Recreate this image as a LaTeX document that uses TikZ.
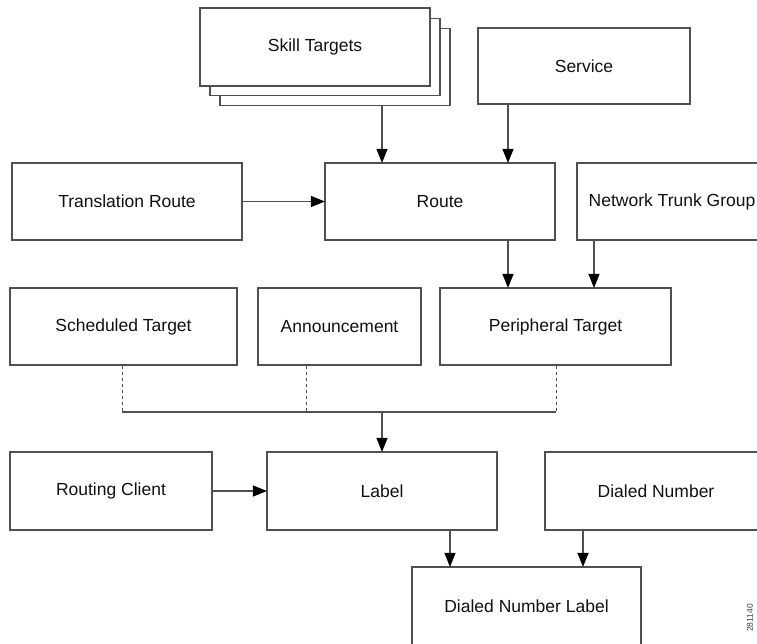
\documentclass[tikz,border=0pt]{standalone}
\usepackage{fontspec}
\setmainfont{Liberation Sans}
\usetikzlibrary{arrows.meta}
\definecolor{edge}{HTML}{505050}
\definecolor{ink}{HTML}{111111}
\begin{document}
\begin{tikzpicture}[x=1pt,y=-1pt,
  box/.style={draw=edge, line width=1.2pt, fill=white, inner sep=0pt,
    minimum height=77pt, text=ink, font=\fontsize{17.5}{20}\selectfont},
  conn/.style={draw=edge, line width=1.2pt},
  arr/.style={conn, -{Triangle[length=14pt,width=11pt,color=black,fill=black]}, shorten >=-0.5pt},
  dline/.style={draw=edge, line width=0.8pt, dash pattern=on 3.5pt off 2.5pt}]
\useasboundingbox (0,0) rectangle (757,643);
% Skill Targets stack
\node[box, minimum width=230pt] (st3) at (335,67) {};
\node[box, minimum width=230pt] (st2) at (325,57) {};
\node[box, minimum width=230pt, minimum height=78pt] (st) at (315,47) {Skill Targets};
\node[box, minimum width=212pt, minimum height=76pt] (service) at (584,66) {Service};
% row 2
\node[box, minimum width=230pt] (trans) at (127,201.5) {Translation Route};
\node[box, minimum width=230pt] (route) at (440,201.5) {Route};
\node[box, minimum width=190pt] (ntg) at (672,201.5) {Network Trunk Group};
% row 3
\node[box, minimum width=227pt] (sched) at (123.5,326.5) {Scheduled Target};
\node[box, minimum width=163pt] (ann) at (339.5,326.5) {Announcement};
\node[box, minimum width=231pt] (periph) at (555.5,326.5) {Peripheral Target};
% row 4
\node[box, minimum width=202pt, minimum height=78pt] (rc) at (111,491) {Routing Client};
\node[box, minimum width=230pt, minimum height=78pt] (label) at (382,491) {Label};
\node[box, minimum width=222pt, minimum height=78pt] (dn) at (656,491) {Dialed Number};
% bottom
\node[box, minimum width=229pt, minimum height=78pt] (dnl) at (526.5,606) {Dialed Number Label};
\node[rotate=90, text=ink!80, font=\fontsize{8.5}{10}\selectfont, inner sep=0pt] (fig) at (750,618) {281140};
% column coordinates
\coordinate (c382) at (382,0);
\coordinate (c508) at (508,0);
\coordinate (c594) at (594,0);
\coordinate (c122) at (122,0);
\coordinate (c306) at (306,0);
\coordinate (c556) at (556,0);
\coordinate (c450) at (450,0);
\coordinate (c583) at (583,0);
\coordinate (j) at (382,412);
% connectors
\draw[arr] (st3.south -| c382) -- (route.north -| c382);
\draw[arr] (service.south -| c508) -- (route.north -| c508);
\draw[arr] (trans.east) -- (route.west);
\draw[arr] (route.south -| c508) -- (periph.north -| c508);
\draw[arr] (ntg.south -| c594) -- (periph.north -| c594);
\draw[dline] (sched.south -| c122) -- (c122 |- j);
\draw[dline] (ann.south -| c306) -- (c306 |- j);
\draw[dline] (periph.south -| c556) -- (c556 |- j);
\draw[conn] (c122 |- j) -- (c556 |- j);
\draw[arr] (j) -- (label.north);
\draw[arr] (rc.east) -- (label.west);
\draw[arr] (label.south -| c450) -- (dnl.north -| c450);
\draw[arr] (dn.south -| c583) -- (dnl.north -| c583);
\end{tikzpicture}
\end{document}
